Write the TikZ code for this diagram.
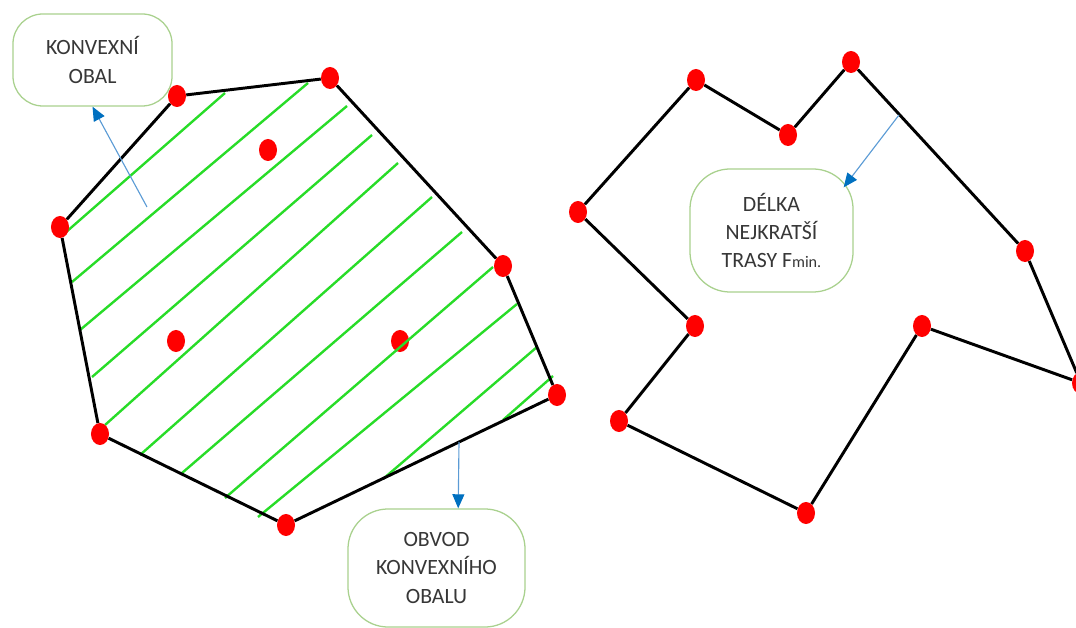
\documentclass[tikz,border=0pt]{standalone}
\usepackage{fontspec}
\setmainfont{Carlito}
\usetikzlibrary{shapes.geometric,arrows.meta,calc}
\definecolor{dotred}{RGB}{255,0,0}
\definecolor{hatchgreen}{RGB}{40,220,40}
\definecolor{bubblegreen}{RGB}{169,209,142}
\definecolor{arrowblue}{RGB}{91,155,213}
\definecolor{tipblue}{RGB}{0,112,192}
\definecolor{labelgray}{RGB}{55,55,55}

\begin{document}
\begin{tikzpicture}[x=0.025cm, y=-0.025cm,
    dot/.style = {ellipse, fill=dotred, inner sep=0, minimum width=0.45cm, minimum height=0.55cm},
    rim/.style = {line width=2.1pt, black},
    hatch/.style = {line width=1.7pt, hatchgreen},
    bubble/.style = {draw=bubblegreen, line width=0.9pt, fill=white, text=labelgray,
      align=center, inner sep=0, font=\fontsize{15.5}{20}\selectfont},
    pointer/.style = {draw=arrowblue, line width=0.8pt,
      -{Triangle[length=10pt, width=8.5pt, color=tipblue]}}]
  \useasboundingbox (0,0) rectangle (1076,628);

  % points inside the hull
  \node[dot] (p1) at (268,150) {} % top
  node[dot] (p2) at (176,341) {} % left
  node[dot] (p3) at (400,341) {}; % right

  % hatching of the hull
  \foreach \xa/\ya/\xb/\yb in {65/233/225/93, 72/282/308/83, 80/330/347/106, 92/377/372/135,
      105/425/398/163, 140/455/432/197, 182/473/462/232, 225/498/493/267,
      258/517/517/304, 383/479/537/347, 503/420/553/376}
    \draw[hatch] (\xa,\ya) -- (\xb,\yb);

  % convex hull
  \node[dot] (h1) at (177,96) {} % top, left
  node[dot] (h2) at (330,78) {} % top, right
  node[dot] (h3) at (503,266) {} % right, top
  node[dot] (h4) at (557,395) {} % right, bottom
  node[dot] (h5) at (286,525) {} % bottom
  node[dot] (h6) at (100,434) {} % left, bottom
  node[dot] (h7) at (60,227) {}; % left, top
  \draw[rim] (h1) -- (h2) -- (h3) -- (h4) -- (h5) -- (h6) -- (h7) -- (h1);

  % shortest tour
  \node[dot] (t1) at (578,212) {} % left
  node[dot] (t2) at (696,80) {} % top, left
  node[dot] (t3) at (788,135) {} % top, dip
  node[dot] (t4) at (851,62) {} % top, right
  node[dot] (t5) at (1025,251) {} % right, top
  node[dot] (t6) at (1081,383) {} % right, bottom
  node[dot] (t7) at (922,326) {} % inner corner
  node[dot] (t8) at (806,513) {} % bottom
  node[dot] (t9) at (619,421) {} % left, bottom
  node[dot] (t10) at (695,326) {}; % left, inner
  \draw[rim] (t1) -- (t2) -- (t3) -- (t4) -- (t5) -- (t6) -- (t7) -- (t8) -- (t9) -- (t10) -- (t1);

  % labels
  \node[bubble, rounded corners=0.75cm, minimum width=3.975cm, minimum height=2.3cm]
    (konvex) at (92.5,60) {KONVEXNÍ\\OBAL};
  \node[bubble, rounded corners=1cm, minimum width=4.425cm, minimum height=2.95cm]
    (obvod) at (436.5,568) {OBVOD\\KONVEXNÍHO\\OBALU};
  \node[bubble, rounded corners=1cm, minimum width=4.075cm, minimum height=3.075cm]
    (delka) at (771.5,230.5) {DÉLKA\\NEJKRATŠÍ\\TRASY F{\fontsize{11.5}{20}\selectfont min.}};

  \coordinate (k0) at (147,207);
  \coordinate (o0) at (459,442);
  \coordinate (d0) at (899,115);
  \draw[pointer] (k0) -- (konvex.south);
  \draw[pointer] (o0) -- (obvod.70);
  \draw[pointer] (d0) -- ($(delka.north east)+(-10,19)$);
\end{tikzpicture}
\end{document}
